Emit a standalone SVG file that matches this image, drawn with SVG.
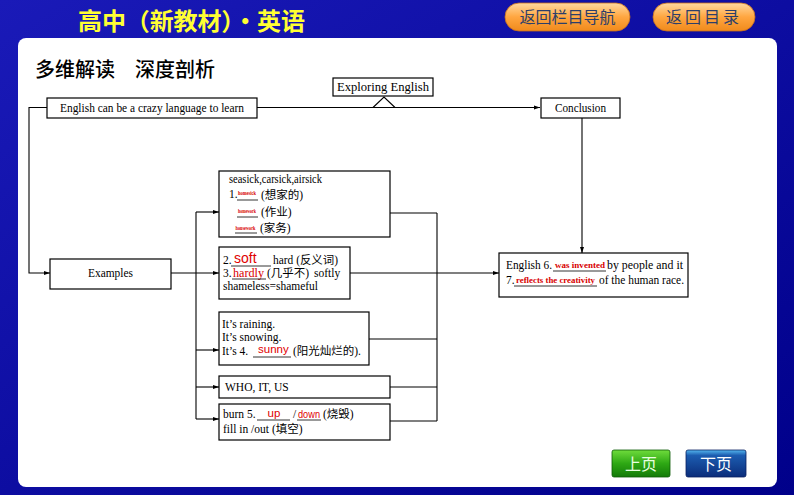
<svg xmlns="http://www.w3.org/2000/svg" width="794" height="495" viewBox="0 0 794 495">
<defs>
<linearGradient id="bg" x1="0" y1="0" x2="1" y2="1">
<stop offset="0" stop-color="#1a1ab8"/>
<stop offset="1" stop-color="#00008a"/>
</linearGradient>
<linearGradient id="orange" x1="0" y1="0" x2="0" y2="1">
<stop offset="0" stop-color="#ffd9a0"/>
<stop offset="0.5" stop-color="#ffa640"/>
<stop offset="1" stop-color="#f08a1c"/>
</linearGradient>
<linearGradient id="green" x1="0" y1="0" x2="0" y2="1">
<stop offset="0" stop-color="#6fdc3c"/>
<stop offset="0.5" stop-color="#2ea814"/>
<stop offset="1" stop-color="#137a08"/>
</linearGradient>
<linearGradient id="blue" x1="0" y1="0" x2="0" y2="1">
<stop offset="0" stop-color="#55b8f0"/>
<stop offset="0.2" stop-color="#1c5cb0"/>
<stop offset="1" stop-color="#0b2d7a"/>
</linearGradient>
<marker id="ar" markerWidth="6" markerHeight="6" refX="6" refY="3" orient="auto" markerUnits="userSpaceOnUse">
<path d="M0,1 L6,3 L0,5 z" fill="#000"/>
</marker>
<style>
.box{fill:#fff;stroke:#000;stroke-width:1.2}
.ln{fill:none;stroke:#000;stroke-width:1.1}
.t{font-family:"Liberation Serif","Noto Sans CJK SC",serif;font-size:11.5px;fill:#000}
.cj{font-family:"Liberation Serif","Noto Sans CJK SC",serif;font-size:11.5px;fill:#000}
.red{font-family:"Liberation Serif",serif;fill:#d80000}
.redS{font-family:"Liberation Sans",sans-serif;fill:#e00000}
.ul{stroke:#000;stroke-width:0.8}
.btn{font-family:"Noto Sans CJK SC",sans-serif;font-size:16px;fill:#2c3e6a}
</style>
</defs>
<rect x="0" y="0" width="794" height="495" fill="url(#bg)"/>
<rect x="18" y="38" width="759" height="449" rx="8" fill="#fff"/>
<text x="78" y="30" font-family="'Noto Sans CJK SC',sans-serif" font-size="24" font-weight="bold" fill="#ffff33" textLength="227">高中（新教材）·英语</text>
<g id="btn-nav">
<rect x="505" y="3" width="125" height="28" rx="14" fill="url(#orange)" stroke="#c8701a" stroke-width="0.8"/>
<text x="567.5" y="23" text-anchor="middle" class="btn">返回栏目导航</text>
</g>
<g id="btn-toc">
<rect x="653" y="3" width="102" height="28" rx="14" fill="url(#orange)" stroke="#c8701a" stroke-width="0.8"/>
<text x="704" y="23" text-anchor="middle" class="btn" letter-spacing="3">返回目录</text>
</g>
<text x="35" y="77" font-family="'Noto Sans CJK SC',sans-serif" font-size="20" font-weight="500" fill="#000">多维解读　深度剖析</text>

<g id="connectors">
<line class="ln" x1="257" y1="107.5" x2="540" y2="107.5" marker-end="url(#ar)"/>
<polyline class="ln" points="373,107.5 384,97 395,107.5"/>
<polyline class="ln" points="47,107.5 29,107.5 29,273 50,273" marker-end="url(#ar)"/>
<line class="ln" x1="582" y1="118" x2="582" y2="253" marker-end="url(#ar)"/>
<line class="ln" x1="171" y1="273" x2="219" y2="273" marker-end="url(#ar)"/>
<line class="ln" x1="196" y1="212" x2="196" y2="419"/>
<line class="ln" x1="196" y1="212" x2="219" y2="212" marker-end="url(#ar)"/>
<line class="ln" x1="196" y1="350" x2="219" y2="350" marker-end="url(#ar)"/>
<line class="ln" x1="196" y1="387" x2="219" y2="387" marker-end="url(#ar)"/>
<line class="ln" x1="196" y1="419" x2="219" y2="419" marker-end="url(#ar)"/>
<line class="ln" x1="437" y1="213" x2="437" y2="421"/>
<line class="ln" x1="390" y1="213" x2="437" y2="213"/>
<line class="ln" x1="350" y1="273" x2="499" y2="273" marker-end="url(#ar)"/>
<line class="ln" x1="369" y1="339" x2="437" y2="339"/>
<line class="ln" x1="390" y1="387" x2="437" y2="387"/>
<line class="ln" x1="390" y1="421" x2="437" y2="421"/>
</g>

<g id="exploring">
<rect class="box" x="333" y="78" width="100" height="18"/>
<text class="t" x="383" y="91" text-anchor="middle" textLength="92" lengthAdjust="spacingAndGlyphs">Exploring English</text>
</g>
<g id="crazy">
<rect class="box" x="47" y="98" width="210" height="20"/>
<text class="t" x="152" y="112" text-anchor="middle" textLength="184" lengthAdjust="spacingAndGlyphs">English can be a crazy language to learn</text>
</g>
<g id="conclusion">
<rect class="box" x="541" y="98" width="79" height="20"/>
<text class="t" x="580.5" y="112" text-anchor="middle" textLength="51" lengthAdjust="spacingAndGlyphs">Conclusion</text>
</g>
<g id="examples">
<rect class="box" x="50" y="259" width="121" height="30"/>
<text class="t" x="110.5" y="277" text-anchor="middle" textLength="45" lengthAdjust="spacingAndGlyphs">Examples</text>
</g>
<g id="box1">
<rect class="box" x="219" y="171" width="171" height="66"/>
<text class="t" x="229" y="183" textLength="93" lengthAdjust="spacingAndGlyphs">seasick,carsick,airsick</text>
<text class="t" x="229" y="198">1.</text>
<line class="ul" x1="237" y1="200" x2="258" y2="200"/>
<text class="red" x="247" y="195" font-size="5.5" font-weight="bold" text-anchor="middle" textLength="18" lengthAdjust="spacingAndGlyphs">homesick</text>
<text class="cj" x="261" y="199">(想家的)</text>
<line class="ul" x1="237" y1="217" x2="258" y2="217"/>
<text class="red" x="247" y="213" font-size="5.5" font-weight="bold" text-anchor="middle" textLength="18" lengthAdjust="spacingAndGlyphs">homework</text>
<text class="cj" x="261" y="216">(作业)</text>
<line class="ul" x1="235" y1="233" x2="257" y2="233"/>
<text class="red" x="245.5" y="230" font-size="5.5" font-weight="bold" text-anchor="middle" textLength="20" lengthAdjust="spacingAndGlyphs">housework</text>
<text class="cj" x="260" y="232">(家务)</text>
</g>
<g id="box2">
<rect class="box" x="219" y="247" width="131" height="52"/>
<text class="t" x="223" y="264">2.</text>
<text class="redS" x="234" y="263" font-size="14">soft</text>
<line class="ul" x1="231" y1="266" x2="271" y2="266"/>
<text class="cj" x="273" y="264" textLength="65" lengthAdjust="spacingAndGlyphs">hard (反义词)</text>
<text class="t" x="223" y="277">3.</text>
<text class="red" x="233" y="277" font-size="11.5" textLength="31" lengthAdjust="spacingAndGlyphs">hardly</text>
<line class="ul" x1="232" y1="279" x2="266" y2="279"/>
<text class="cj" x="267" y="277">(几乎不)</text>
<text class="t" x="314" y="277">softly</text>
<text class="t" x="223" y="290" textLength="95" lengthAdjust="spacingAndGlyphs">shameless=shameful</text>
</g>
<g id="box3">
<rect class="box" x="219" y="312" width="150" height="53"/>
<text class="t" x="222" y="328">It’s raining.</text>
<text class="t" x="222" y="341">It’s snowing.</text>
<text class="t" x="222" y="355">It’s 4.</text>
<text class="redS" x="258" y="353" font-size="11.5">sunny</text>
<line class="ul" x1="253" y1="357" x2="291" y2="357"/>
<text class="cj" x="293" y="355" textLength="68" lengthAdjust="spacingAndGlyphs">(阳光灿烂的).</text>
</g>
<g id="box4">
<rect class="box" x="219" y="376" width="171" height="22"/>
<text class="t" x="225" y="391">WHO, IT, US</text>
</g>
<g id="box5">
<rect class="box" x="219" y="404" width="171" height="36"/>
<text class="t" x="223" y="418">burn 5.</text>
<line class="ul" x1="257" y1="420" x2="290" y2="420"/>
<text class="redS" x="274" y="417" font-size="11.5" text-anchor="middle">up</text>
<text class="t" x="293" y="418">/</text>
<text class="redS" x="298" y="418" font-size="11.5" textLength="22" lengthAdjust="spacingAndGlyphs">down</text>
<line class="ul" x1="297" y1="420" x2="321" y2="420"/>
<text class="cj" x="323" y="418">(烧毁)</text>
<text class="cj" x="223" y="433">fill in /out (填空)</text>
</g>
<g id="english">
<rect class="box" x="499" y="253" width="189" height="44"/>
<text class="t" x="506" y="269" textLength="46" lengthAdjust="spacingAndGlyphs">English 6.</text>
<text class="red" x="555" y="268" font-size="8.5" font-weight="bold" textLength="50" lengthAdjust="spacingAndGlyphs">was invented</text>
<line class="ul" x1="553" y1="271" x2="606" y2="271"/>
<text class="t" x="607" y="269" textLength="76" lengthAdjust="spacingAndGlyphs">by people and it</text>
<text class="t" x="506" y="284">7.</text>
<text class="red" x="516" y="283" font-size="8" font-weight="bold" textLength="79" lengthAdjust="spacingAndGlyphs">reflects the creativity</text>
<line class="ul" x1="514" y1="286" x2="597" y2="286"/>
<text class="t" x="599" y="284" textLength="85" lengthAdjust="spacingAndGlyphs">of the human race.</text>
</g>
<g id="btn-prev">
<rect x="612" y="450" width="58" height="27" rx="2" fill="url(#green)" stroke="#0c5a06" stroke-width="0.8"/>
<text x="641" y="470" text-anchor="middle" font-family="'Noto Sans CJK SC',sans-serif" font-size="16" fill="#e8ffe0">上页</text>
</g>
<g id="btn-next">
<rect x="686" y="450" width="60" height="27" rx="2" fill="url(#blue)" stroke="#082060" stroke-width="0.8"/>
<text x="716" y="470" text-anchor="middle" font-family="'Noto Sans CJK SC',sans-serif" font-size="16" fill="#ffffff">下页</text>
</g>
</svg>
